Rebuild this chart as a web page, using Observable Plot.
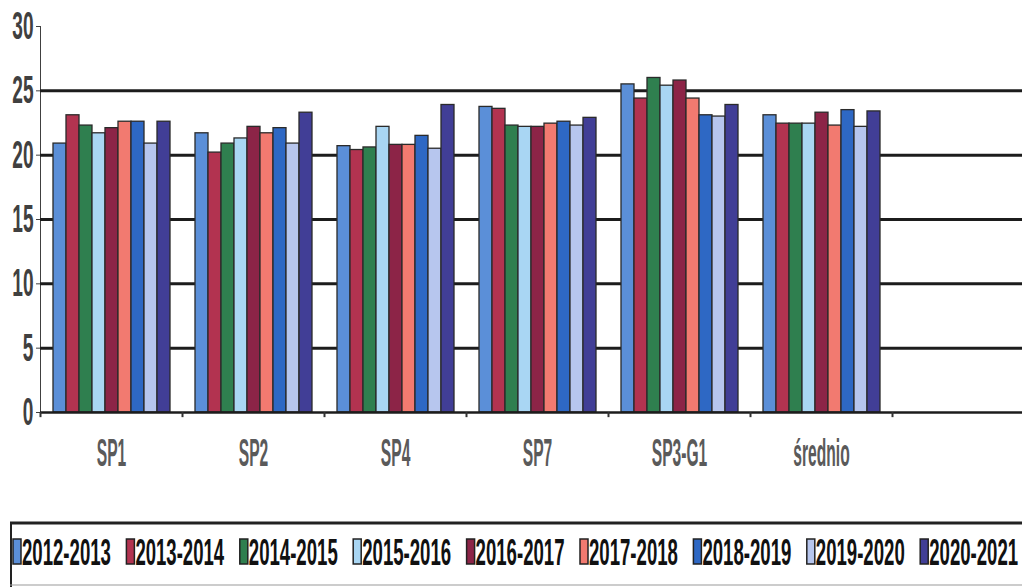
<!DOCTYPE html>
<html>
<head>
<meta charset="utf-8">
<script src="https://cdn.jsdelivr.net/npm/d3@7"></script>
<script src="https://cdn.jsdelivr.net/npm/@observablehq/plot@0.6"></script>
<style>
  html, body { margin: 0; padding: 0; background: #fff; }
  #chart { width: 1022px; height: 587px; overflow: hidden; }
</style>
</head>
<body>
<div id="chart"></div>
<script>
// ---- data ----
const groups = ["SP1", "SP2", "SP4", "SP7", "SP3-G1", "średnio"];
const groupsAll = [...groups, " "]; // empty trailing category in the original
const series = ["2012-2013", "2013-2014", "2014-2015", "2015-2016", "2016-2017",
                "2017-2018", "2018-2019", "2019-2020", "2020-2021"];
// values per series, in the order of `groups`
const v2012_2013 = [20.9, 21.7, 20.7, 23.75, 25.5, 23.1];
const v2013_2014 = [23.1, 20.2, 20.4, 23.6, 24.4, 22.45];
const v2014_2015 = [22.3, 20.9, 20.6, 22.3, 26.0, 22.45];
const v2015_2016 = [21.7, 21.3, 22.2, 22.2, 25.4, 22.45];
const v2016_2017 = [22.1, 22.2, 20.8, 22.2, 25.8, 23.3];
const v2017_2018 = [22.6, 21.7, 20.8, 22.45, 24.4, 22.3];
const v2018_2019 = [22.6, 22.1, 21.5, 22.6, 23.1, 23.5];
const v2019_2020 = [20.9, 20.9, 20.5, 22.3, 23.0, 22.2];
const v2020_2021 = [22.6, 23.3, 23.9, 22.9, 23.9, 23.4];
const yTicks = [0, 5, 10, 15, 20, 25, 30];
const gridValues = [5, 10, 15, 20, 25];
const colors = ["#5b8fd8", "#b23350", "#2f7f4f", "#a9d6f3", "#8c2447",
                "#f27a70", "#2e68c4", "#b7c6ee", "#413e96"];

const seriesValues = [v2012_2013, v2013_2014, v2014_2015, v2015_2016, v2016_2017,
                      v2017_2018, v2018_2019, v2019_2020, v2020_2021];
const data = [];
series.forEach((s, i) => groups.forEach((g, j) => data.push({group: g, series: s, value: seriesValues[i][j]})));

const W = 1022, H = 492;
const mLeft = 40, mRight = -12;
const step = (W - mRight - mLeft) / groupsAll.length;

const plot = Plot.plot({
  width: W, height: H,
  marginLeft: mLeft, marginRight: mRight, marginTop: 26, marginBottom: 80,
  style: {fontFamily: "'Liberation Sans', Arial, sans-serif", fontSize: "39px", fontWeight: "bold", color: "#404040", background: "#fff", overflow: "hidden"},
  fx: {domain: groupsAll, padding: 0, axis: "bottom", label: null, tickSize: 0, tickPadding: 26, tickFormat: d => d.trim()},
  x: {domain: series, paddingInner: 0, paddingOuter: 0.74, axis: null},
  y: {domain: [0, 30], ticks: yTicks, tickSize: 4, tickPadding: 3, label: null, line: true},
  color: {domain: series, range: colors},
  marks: [
    Plot.ruleY(gridValues, {stroke: "#1c1c1c", strokeWidth: 3}),
    Plot.barY(data, {fx: "group", x: "series", y: "value", fill: "series", stroke: "#2a2a2a", strokeWidth: 1.3}),
    Plot.ruleY([0], {stroke: "#1c1c1c", strokeWidth: 2.5}),
    Plot.ruleX(groupsAll, {fx: d => d, x: null, y1: 0, y2: -0.4, dx: -step / 2, stroke: "#333", strokeWidth: 2})
  ]
});
const chart = document.getElementById("chart");
chart.appendChild(plot);

// condense labels horizontally (the original uses a narrow face)
const NS = "http://www.w3.org/2000/svg";
function condense(root, sel, s, targetWidth) {
  root.querySelectorAll(sel).forEach(t => {
    const g = document.createElementNS(NS, "g");
    t.parentNode.insertBefore(g, t);
    g.appendChild(t);
    const b = g.getBBox();
    const k = targetWidth ? targetWidth / b.width : s;
    const a = getComputedStyle(t).textAnchor;
    const cx = a === "end" ? b.x + b.width : a === "middle" ? b.x + b.width / 2 : b.x;
    g.setAttribute("transform", `translate(${cx},0) scale(${k},1) translate(${-cx},0)`);
  });
}
condense(plot, '[aria-label^="y-axis"] text', 0.49);
condense(plot, '[aria-label^="fx-axis"] text', 0.40);
plot.querySelectorAll('[aria-label^="fx-axis"] text').forEach(t => t.setAttribute("fill", "#5a5a5a"));

// ---- legend (below the plot) ----
const LH = 95, legTop = 31;
const leg = d3.create("svg").attr("width", W).attr("height", LH).style("display", "block");
leg.append("line").attr("x1", 10).attr("x2", W).attr("y1", legTop).attr("y2", legTop).attr("stroke", "#222").attr("stroke-width", 3);
leg.append("line").attr("x1", 11).attr("x2", 11).attr("y1", legTop - 1).attr("y2", LH).attr("stroke", "#222").attr("stroke-width", 2);
leg.append("line").attr("x1", 10).attr("x2", W).attr("y1", legTop + 62).attr("y2", legTop + 62).attr("stroke", "#999").attr("stroke-width", 1);
const item = leg.selectAll("g.item").data(series).join("g")
  .attr("transform", (d, i) => `translate(${13 + i * 113.4},0)`);
item.append("rect").attr("x", 0).attr("y", legTop + 16).attr("width", 8).attr("height", 25)
  .attr("fill", (d, i) => colors[i]).attr("stroke", "#222").attr("stroke-width", 1.5);
item.append("text").attr("x", 9).attr("y", legTop + 42)
  .attr("font-family", "'Liberation Sans', Arial, sans-serif").attr("font-weight", "bold")
  .attr("font-size", 37).attr("fill", "#111")
  .text(d => d);
chart.appendChild(leg.node());
condense(leg.node(), "text", 1, 89);
</script>
</body>
</html>
